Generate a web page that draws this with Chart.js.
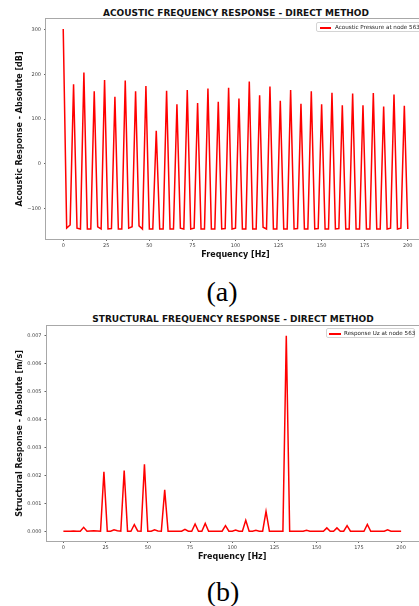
<!DOCTYPE html>
<html>
<head>
<meta charset="utf-8">
<script src="https://cdn.jsdelivr.net/npm/chart.js@4.4.1/dist/chart.umd.min.js"></script>
<style>
  html, body { margin: 0; padding: 0; background: #fff; }
  #page { position: relative; width: 419px; height: 606px; overflow: hidden; background: #fff; font-family: 'DejaVu Sans', sans-serif; }
  .cw { position: absolute; left: 0; }
  .title { position: absolute; font-weight: bold; font-size: 9px; color: #111; white-space: nowrap; transform: translate(-50%, -50%); }
  .legend { position: absolute; border: 1px solid #d4d4d4; border-radius: 2px; background: rgba(255,255,255,0.85); font-size: 5.6px; color: #222; white-space: nowrap; box-sizing: border-box; }
  .legend .sw { position: absolute; height: 1.5px; background: red; }
  .legend .tx { position: absolute; line-height: 1; }
  .cap { position: absolute; font-family: 'Liberation Serif', 'DejaVu Serif', serif; font-size: 28px; color: #000; transform: translate(-50%, -50%); white-space: nowrap; }
</style>
</head>
<body>
<div id="page">
  <div class="title" style="left:236px; top:12.5px;">ACOUSTIC FREQUENCY RESPONSE - DIRECT METHOD</div>
  <div class="cw" style="top:0px;"><canvas id="ca" width="440" height="260" style="width:440px;height:260px;"></canvas></div>
  <div class="legend" style="left:316px; top:22px; width:120px; height:10px;">
    <div class="sw" style="left:3px; top:4px; width:11px;"></div>
    <div class="tx" style="left:18px; top:2px;">Acoustic Pressure at node 563</div>
  </div>
  <div class="cap" style="left:222px; top:292px;">(a)</div>

  <div class="title" style="left:233px; top:319px;">STRUCTURAL FREQUENCY RESPONSE - DIRECT METHOD</div>
  <div class="cw" style="top:300px;"><canvas id="cb" width="419" height="262" style="width:419px;height:262px;"></canvas></div>
  <div class="legend" style="left:326px; top:328px; width:89px; height:10px;">
    <div class="sw" style="left:2px; top:4px; width:12px;"></div>
    <div class="tx" style="left:17px; top:2px;">Response Uz at node 563</div>
  </div>
  <div class="cap" style="left:223px; top:592px;">(b)</div>
</div>
<script>
// ---- DATA ----
const frequencies = [
  0, 2, 4, 6, 8, 10, 12, 14, 16, 18, 20, 22, 24, 26, 28, 30, 32, 34, 36, 38,
  40, 42, 44, 46, 48, 50, 52, 54, 56, 58, 60, 62, 64, 66, 68, 70, 72, 74, 76, 78,
  80, 82, 84, 86, 88, 90, 92, 94, 96, 98, 100, 102, 104, 106, 108, 110, 112, 114, 116, 118,
  120, 122, 124, 126, 128, 130, 132, 134, 136, 138, 140, 142, 144, 146, 148, 150, 152, 154, 156, 158,
  160, 162, 164, 166, 168, 170, 172, 174, 176, 178, 180, 182, 184, 186, 188, 190, 192, 194, 196, 198, 200
];
const acousticPressure = [
  301, -143, -136, 178, -143, -145, 204, -145, -145, 162, -140, -145,
  187, -145, -144, 150, -145, -145, 186, -143, -140, 162, -138, -145,
  174, -145, -145, 74, -145, -145, 163, -145, -145, 133, -143, -145,
  165, -145, -143, 136, -145, -145, 168, -145, -145, 139, -145, -144,
  170, -145, -143, 146, -145, -145, 184, -145, -145, 153, -141, -145,
  173, -145, -145, 141, -145, -145, 165, -145, -144, 134, -145, -145,
  162, -145, -144, 133, -145, -145, 159, -145, -144, 131, -145, -145,
  157, -145, -145, 131, -145, -145, 158, -145, -145, 128, -145, -143,
  155, -145, -143, 130, -145
];
const structuralUz = [
  0, 0, 0, 0.00001, 0, 0, 0.00014, 0, 0.00001, 0.00002, 0.00001, 0,
  0.00213, 0, 0, 0.00005, 0.00002, 0, 0.00217, 0, 0, 0.00024, 0.00001, 0,
  0.0024, 0, 0, 0.00005, 0.00001, 0, 0.00148, 0, 0, 0, 0, 0,
  0.00007, 0, 0, 0.00026, 0, 0, 0.00028, 0, 0, 0, 0, 0,
  0.0002, 0, 0, 0.00004, 0, 0, 0.00039, 0, 0, 0.00003, 0, 0,
  0.00071, 0, 0, 0, 0, 0, 0.007, 0, 0, 0, 0, 0,
  0.00003, 0, 0, 0, 0, 0, 0.00012, 0, 0, 0.00012, 0, 0,
  0.0002, 0, 0, 0, 0, 0, 0.00024, 0, 0, 0, 0, 0,
  0.00005, 0, 0, 0, 0
];
const xTicks = [0, 25, 50, 75, 100, 125, 150, 175, 200];
const acousticTicks = [-100, 0, 100, 200, 300];
const structuralTicks = [0, 0.001, 0.002, 0.003, 0.004, 0.005, 0.006, 0.007];

// ---- CHARTS ----
const FONT = 'DejaVu Sans';

const framePlugin = {
  id: 'frame',
  afterDraw(chart) {
    const a = chart.chartArea, ctx = chart.ctx;
    ctx.save();
    ctx.strokeStyle = '#a8a8a8';
    ctx.lineWidth = 1;
    ctx.strokeRect(Math.round(a.left) - 0.5, Math.round(a.top) - 0.5,
                   Math.round(a.right - a.left) + 1, Math.round(a.bottom - a.top) + 1);
    ctx.restore();
  }
};

function makeChart(id, values, cfg) {
  const pts = frequencies.map((f, i) => ({ x: f, y: values[i] }));
  return new Chart(document.getElementById(id), {
    type: 'line',
    data: { datasets: [{ data: pts, borderColor: '#ff0000', borderWidth: 1.5, pointRadius: 0, tension: 0, fill: false }] },
    options: {
      responsive: false,
      animation: false,
      devicePixelRatio: 1,
      layout: { padding: cfg.padding },
      plugins: { legend: { display: false }, tooltip: { enabled: false }, title: { display: false } },
      scales: {
        x: {
          type: 'linear', min: -10, max: 210,
          afterFit(s) { s.height = cfg.xHeight; },
          afterBuildTicks(s) { s.ticks = xTicks.map(v => ({ value: v })); },
          border: { display: false },
          grid: { drawOnChartArea: false, drawTicks: true, tickLength: 2, tickColor: '#666', color: '#666' },
          ticks: { autoSkip: false, maxRotation: 0, padding: 2,
                   color: '#444', font: { family: FONT, size: 5 } },
          title: { display: true, text: 'Frequency [Hz]', color: '#111', padding: 0,
                   font: { family: FONT, size: 8, weight: 'bold', lineHeight: 1.2 } }
        },
        y: {
          type: 'linear', min: cfg.yMin, max: cfg.yMax,
          afterFit(s) { s.width = cfg.yWidth; },
          afterBuildTicks(s) { s.ticks = cfg.yTicks.map(v => ({ value: v })); },
          border: { display: false },
          grid: { drawOnChartArea: false, drawTicks: true, tickLength: 2, tickColor: '#666', color: '#666' },
          ticks: { autoSkip: false, padding: 3,
                   color: '#444', font: { family: FONT, size: 5 },
                   callback: cfg.yFmt },
          title: { display: true, text: cfg.yTitle, color: '#111', padding: 0,
                   font: { family: FONT, size: 8, weight: 'bold', lineHeight: 1.2 } }
        }
      }
    },
    plugins: [framePlugin]
  });
}

makeChart('ca', acousticPressure, {
  padding: { left: 15, top: 19, right: 15, bottom: 0 },
  xHeight: 21, yWidth: 31,
  yMin: -167.3, yMax: 323.3, yTicks: acousticTicks,
  yFmt: v => String(Math.round(v)).replace('-', '\u2212'),
  yTitle: 'Acoustic Response - Absolute [dB]'
});

makeChart('cb', structuralUz, {
  padding: { left: 15, top: 26, right: 1, bottom: 0 },
  xHeight: 21, yWidth: 31.5,
  yMin: -0.00035, yMax: 0.00735, yTicks: structuralTicks,
  yFmt: v => v.toFixed(3),
  yTitle: 'Structural Response - Absolute [m/s]'
});
</script>
</body>
</html>
